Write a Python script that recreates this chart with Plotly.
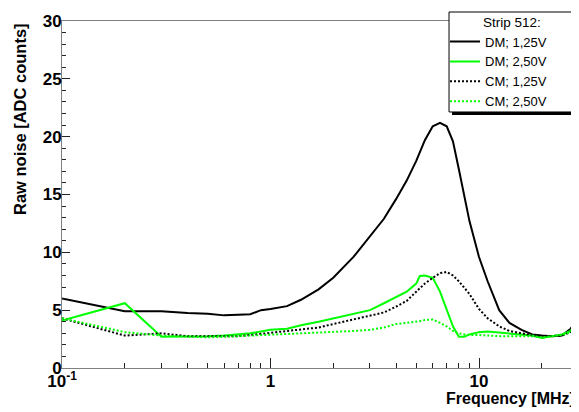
import plotly.graph_objects as go

# frequency points [MHz]
freq = [0.1, 0.2, 0.3, 0.4, 0.5, 0.6, 0.7, 0.8, 0.9, 1.0, 1.2, 1.4, 1.7, 2.0, 2.5, 3.0,
        3.5, 4.0, 4.5, 5.0, 5.2, 5.5, 6.0, 6.5, 7.0, 7.5, 8.0, 8.5, 9.0, 10, 11, 12.5,
        14, 16, 18, 20, 22.5, 25, 27.5, 30]

# raw noise [ADC counts]
dm_125 = [6.0, 4.9, 4.9, 4.75, 4.7, 4.55, 4.6, 4.65, 5.0, 5.1, 5.35, 5.9, 6.8, 7.8, 9.6, 11.35,
          12.9, 14.6, 16.2, 17.9, 18.6, 19.7, 20.9, 21.2, 20.9, 19.6, 17.2, 14.8, 12.7, 9.6, 7.5, 5.0,
          3.9, 3.3, 2.9, 2.8, 2.75, 2.8, 3.4, 4.3]
dm_250 = [4.1, 5.6, 2.7, 2.7, 2.75, 2.8, 2.9, 3.0, 3.15, 3.3, 3.4, 3.7, 4.0, 4.3, 4.7, 5.0,
          5.6, 6.1, 6.6, 7.3, 7.95, 8.0, 7.8, 6.6, 5.0, 3.6, 2.7, 2.7, 2.9, 3.1, 3.15, 3.05,
          2.95, 2.9, 2.8, 2.6, 2.75, 2.9, 3.2, 4.3]
cm_125 = [4.3, 2.8, 3.0, 2.75, 2.75, 2.75, 2.75, 2.85, 2.95, 3.05, 3.15, 3.3, 3.5, 3.8, 4.2, 4.5,
          4.8, 5.3, 5.8, 6.6, 6.9, 7.3, 7.8, 8.2, 8.3, 8.0, 7.5, 6.9, 6.4, 5.1, 4.3, 3.6,
          3.2, 3.0, 2.8, 2.75, 2.75, 2.8, 3.1, 4.1]
cm_250 = [4.3, 3.1, 2.8, 2.7, 2.65, 2.7, 2.75, 2.8, 2.85, 2.9, 2.95, 3.0, 3.05, 3.1, 3.2, 3.3,
          3.5, 3.8, 3.9, 4.0, 4.05, 4.15, 4.2, 3.9, 3.6, 3.2, 3.0, 2.9, 2.85, 2.85, 2.8, 2.75,
          2.75, 2.75, 2.75, 2.65, 2.75, 2.85, 3.1, 4.1]

series = [
    ("DM; 1,25V", dm_125, "black", "solid"),
    ("DM; 2,50V", dm_250, "#00ff00", "solid"),
    ("CM; 1,25V", cm_125, "black", "2px,2px"),
    ("CM; 2,50V", cm_250, "#00ff00", "2px,2px"),
]

fig = go.Figure()
for name, vals, col, dash in series:
    fig.add_trace(go.Scatter(x=freq, y=vals, mode="lines", name=name,
                             line=dict(color=col, width=2, dash=dash)))

tickfont = dict(family="Liberation Sans", size=17, color="black", weight="bold")

# page body has an 8px margin, so the figure is 8px smaller and shifted
fig.update_layout(
    width=571, height=404,
    margin=dict(l=54, r=2, t=13, b=44, autoexpand=False),
    paper_bgcolor="white", plot_bgcolor="white",
    font=dict(family="Liberation Sans", color="black"),
    xaxis=dict(type="log", range=[-1, 1.47], showgrid=False, zeroline=False,
               showline=True, mirror=True, linecolor="#808080", linewidth=1,
               ticks="inside", ticklen=10, tickcolor="#222", tickwidth=1,
               tickvals=[0.1, 1, 10], ticktext=["10<sup>-1</sup>", "1", "10"],
               tickfont=tickfont, ticklabelstandoff=-2,
               minor=dict(ticks="inside", ticklen=5, tickcolor="#222",
                          tickvals=[0.2, 0.3, 0.4, 0.5, 0.6, 0.7, 0.8, 0.9,
                                    2, 3, 4, 5, 6, 7, 8, 9, 20, 30])),
    yaxis=dict(range=[0, 30], showgrid=False, zeroline=False,
               showline=True, mirror=True, linecolor="#808080", linewidth=1,
               ticks="inside", ticklen=8, tickcolor="#222", tickwidth=1,
               tickvals=[0, 5, 10, 15, 20, 25, 30], tickfont=tickfont,
               ticklabelstandoff=-4,
               minor=dict(ticks="inside", ticklen=4, tickcolor="#222", dtick=1)),
    legend=dict(x=0.7437, y=0.984, xanchor="left", yanchor="top",
                bgcolor="rgba(0,0,0,0)", borderwidth=0,
                font=dict(family="Liberation Sans", size=13, color="black"),
                itemwidth=30, tracegroupgap=0),
    # legend frame with ROOT-style drop shadow
    shapes=[
        dict(type="rect", xref="paper", yref="paper", layer="above",
             x0=0.7573, x1=1.0039, y0=0.7291, y1=1.0173,
             fillcolor="black", line=dict(width=0)),
        dict(type="rect", xref="paper", yref="paper", layer="above",
             x0=0.7515, x1=0.998, y0=0.7378, y1=1.0259,
             fillcolor="white", line=dict(color="black", width=1)),
    ],
    annotations=[
        dict(text="Strip 512:", xref="paper", yref="paper",
             x=0.8136, y=0.997, xanchor="left", yanchor="middle", showarrow=False,
             font=dict(family="Liberation Sans", size=13.5)),
        dict(text="<b>Frequency [MHz]</b>", xref="paper", yref="paper",
             x=1, y=-0.0865, xanchor="right", yanchor="middle", showarrow=False,
             font=dict(family="Liberation Sans", size=16)),
        dict(text="<b>Raw noise [ADC counts]</b>", xref="paper", yref="paper",
             x=-0.0816, y=1.0, xanchor="center", yanchor="top", textangle=-90,
             showarrow=False, font=dict(family="Liberation Sans", size=16.5)),
    ],
)

fig.write_html("out.html")
